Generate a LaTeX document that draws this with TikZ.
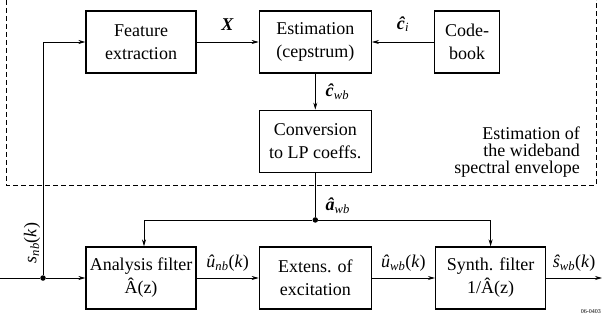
\documentclass[tikz,border=0pt]{standalone}
\usepackage{fontspec}
\setmainfont{Liberation Serif}
\usetikzlibrary{positioning,arrows.meta}
\newcommand{\bi}[1]{\textbf{\textit{#1}}}
\newcommand{\sub}[1]{\textsubscript{\textit{#1}}}

\begin{document}
\fontsize{18}{23}\selectfont
\begin{tikzpicture}[x=1pt, y=-1pt, node distance={62pt}, >={Stealth[length=7pt,width=4pt]},
  block/.style = {draw, line width=1.3pt, minimum width=110pt, minimum height=62pt, align=center, inner sep=1pt},
  wire/.style = {line width=0.7pt},
  dot/.style = {circle, fill, inner sep=0pt, minimum size=5.5pt}]
  \useasboundingbox (0,0) rectangle (602,323);
  % envelope estimation
  \node[block] (fe) at (141,42) {Feature\\extraction};
  \node[block, minimum width=112pt] (est) [right = of fe] {Estimation\\(cepstrum)};
  \node[block, minimum width=65pt] (cb) [right = of est] {Code-\\book};
  \node[block, minimum width=112pt] (conv) [below = 36pt of est] {Conversion\\to LP coeffs.};
  \draw[dash pattern=on 5pt off 3pt, line width=0.7pt] (6,0) -- (6,185) -- (596,185) -- (596,0);
  \node[align=right, anchor=north east, inner sep=0pt, font=\fontsize{18}{17}\selectfont] (envtxt) at (580,127) {Estimation of\\the wideband\\spectral envelope};
  % filtering chain
  \node[block] (ana) at (141,278) {Analysis filter\\Â(z)};
  \node[block, minimum width=112pt] (ext) [right = of ana] {Extens. of\\excitation};
  \node[block] (syn) [right = 63pt of ext] {Synth. filter\\1/Â(z)};
  \coordinate (in) at (0,278);
  \node[dot] (jn) at (43,278) {};
  \coordinate (out) at (602,278);
  \draw[wire] (in) -- (jn);
  \draw[wire,->] (jn) -- (ana);
  \draw[wire,->] (jn) |- (fe);
  \node[rotate=90] (lsnb) at (32,243) {\textit{s}\sub{nb}(\textit{k})};
  \draw[wire,->] (fe) -- node[above=5pt] (lx) {\bi{X}} (est);
  \draw[wire,->] (cb) -- node[above=4pt] (lci) {\bi{ĉ}\sub{i}} (est);
  \draw[wire,->] (est) -- node[right=4pt] (lcwb) {\bi{ĉ}\sub{wb}} (conv);
  \path (conv.south) ++(0,47) node[dot] (ja) {};
  \draw[wire] (conv) -- (ja) node[above right=0pt and 4pt] (lawb) {\bi{â}\sub{wb}};
  \draw[wire,->] (ja) -| ([xshift=3pt]ana.north);
  \draw[wire,->] (ja) -| (syn.north);
  \draw[wire,->] (ana) -- node[above] (lunb) {\textit{û}\sub{nb}(\textit{k})} (ext);
  \draw[wire,->] (ext) -- node[above] (luwb) {\textit{û}\sub{wb}(\textit{k})} (syn);
  \draw[wire,->] (syn) -- node[above] (lswb) {\textit{ŝ}\sub{wb}(\textit{k})} (out);
  \node[font=\fontsize{6}{7}\selectfont, anchor=east, inner sep=1pt] (figid) at (602,312) {06-0403};
\end{tikzpicture}
\end{document}
